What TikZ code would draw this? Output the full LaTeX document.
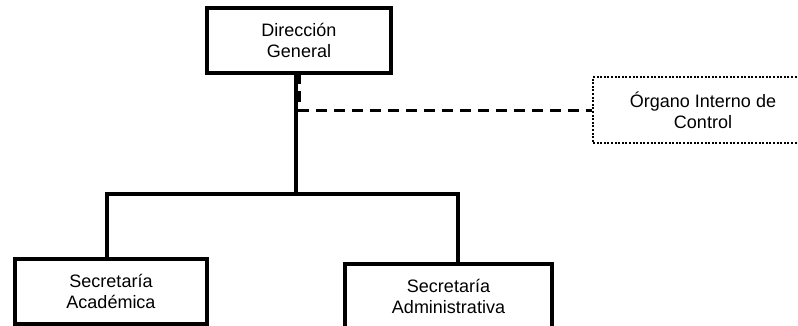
\documentclass[tikz,border=0pt]{standalone}
\usepackage{fontspec}
\setmainfont{Liberation Sans}
\begin{document}
\begin{tikzpicture}[x=1pt,y=-1pt,
  box/.style={draw=black,line width=3.2pt,fill=white,rectangle,align=center,inner sep=0pt,
     font=\fontsize{18}{21}\selectfont},
  dotbox/.style={box,line width=2.6pt,dash pattern=on 2pt off 1.6pt},
  link/.style={draw=black,line width=3.2pt},
  dlink/.style={draw=black,line width=3.2pt,dash pattern=on 11pt off 7pt}]
\useasboundingbox (0,0) rectangle (798,326);
\clip (0,0) rectangle (798,326);
\node[box,minimum width=184pt,minimum height=65pt] (dg) at (299,40.5) {Dirección\\General};
\node[dotbox,minimum width=220pt,minimum height=66pt] (oic) at (703,110) {Órgano Interno de\\Control};
\node[box,minimum width=192pt,minimum height=65pt] (sa) at (111,291.5) {Secretaría\\Académica};
\node[box,minimum width=207pt,minimum height=65pt] (sad) at (448.5,296.5) {Secretaría\\Administrativa};
\coordinate (top) at (296,73);
\coordinate (j) at (296,194);
\coordinate (jl) at (107,194);
\coordinate (jr) at (458,194);
\coordinate (dtop) at (299.5,73);
\coordinate (dk) at (299.5,110.5);
\draw[link] (top) -- (j);
\draw[link] (sa.north -| jl) -- (jl) -- (jr) -- (sad.north -| jr);
\draw[dlink] (dtop) -- (dk) -- (oic.west |- dk);
\end{tikzpicture}
\end{document}
